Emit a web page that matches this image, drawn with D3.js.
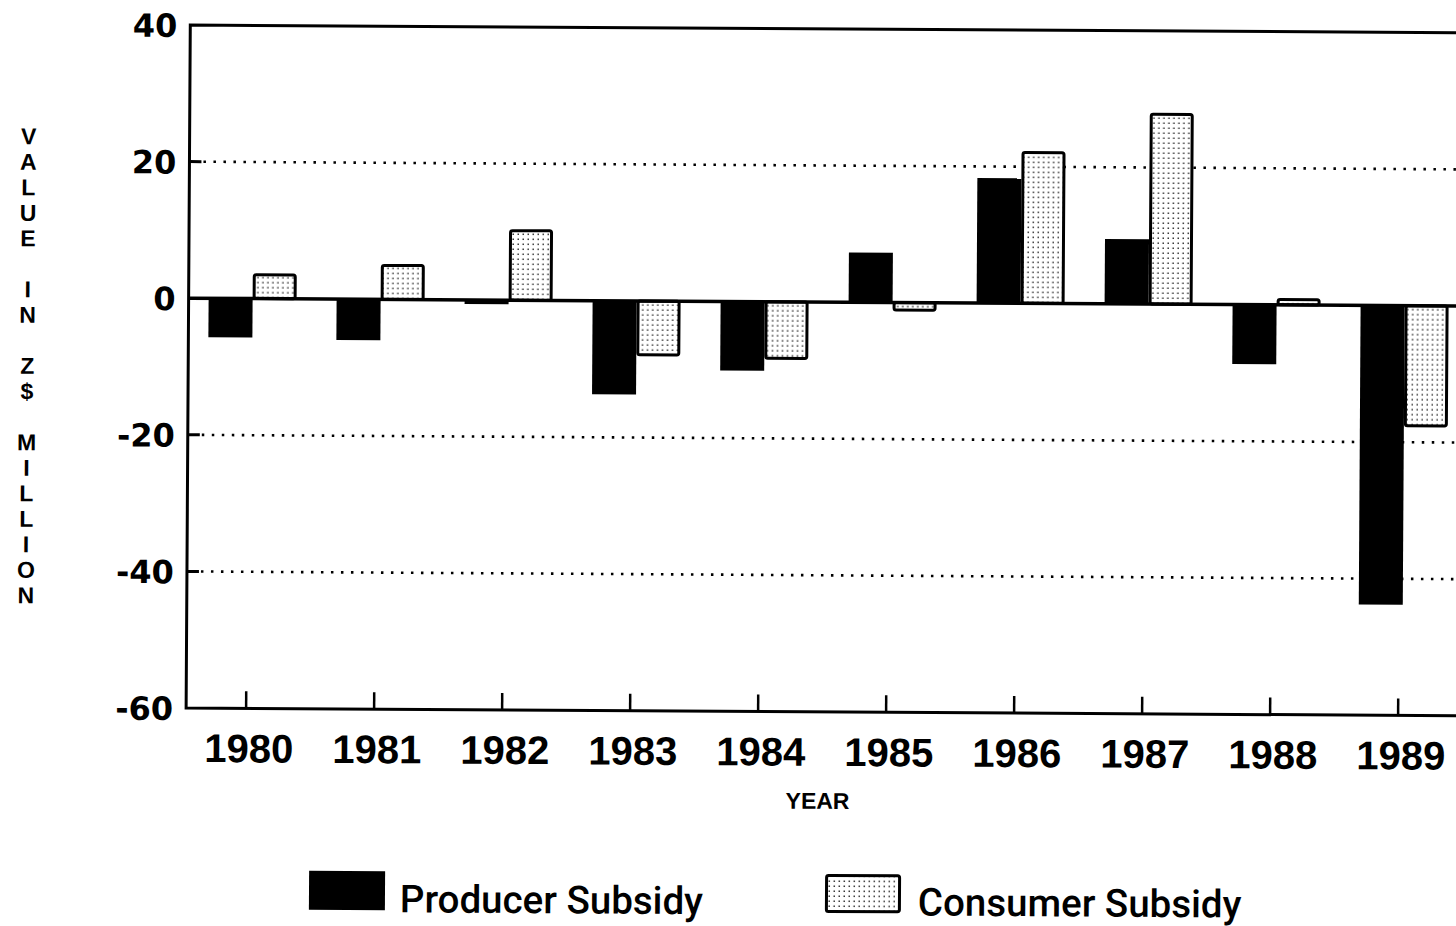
<!DOCTYPE html>
<html><head><meta charset="utf-8">
<script src="https://cdn.jsdelivr.net/npm/d3@7"></script>
<style>body{margin:0;background:#fff} svg{display:block}</style>
</head><body>
<svg id="c" width="1456" height="926"></svg>
<script>
const years = ["1980","1981","1982","1983","1984","1985","1986","1987","1988","1989"];
const producer = [-5.7,-6.0,-0.6,-13.7,-10.1,7.3,18.3,9.5,-8.7,-43.8];
const consumer = [3.7,5.2,10.4,-8.1,-8.5,-1.3,22.3,28.0,1.0,-17.8];
const yTicks = [40,20,0,-20,-40,-60];
const gridTicks = [20,-20,-40];
const yTitle = "VALUE IN Z$ MILLION";
const xTitle = "YEAR";
const seriesNames = ["Producer Subsidy","Consumer Subsidy"];

const svg = d3.select("#c");
const defs = svg.append("defs");
const pat = defs.append("pattern").attr("id","dots").attr("patternUnits","userSpaceOnUse")
  .attr("width",5).attr("height",5);
pat.append("rect").attr("width",5).attr("height",5).attr("fill","#fff");
pat.append("rect").attr("x",1.5).attr("y",1.5).attr("width",1.5).attr("height",1.5).attr("fill","#333");

const L = 188, R = 1470, T = 25, B = 708;
const g = svg.append("g").attr("transform","rotate(0.35,188,400)");

const x = d3.scaleBand().domain(years).range([L, L + 128*years.length]).padding(0);
const y = d3.scaleLinear().domain([-60,40]).range([B,T]);
const half = 44;

// dotted gridlines
g.selectAll(".grid").data(gridTicks).join("line")
  .attr("x1",L+14).attr("x2",R).attr("y1",d=>y(d)).attr("y2",d=>y(d))
  .attr("stroke","#000").attr("stroke-width",2.6).attr("stroke-dasharray","2.5,7.5");
// short y ticks
g.selectAll(".yt").data(gridTicks).join("line")
  .attr("x1",L).attr("x2",L+12).attr("y1",d=>y(d)).attr("y2",d=>y(d))
  .attr("stroke","#000").attr("stroke-width",3);

// bars
const cx = d => x(d) + x.bandwidth()/2;
g.selectAll(".p").data(years).join("rect")
  .attr("x",d=>cx(d)-half).attr("width",half)
  .attr("y",(d,i)=>y(Math.max(0,producer[i])))
  .attr("height",(d,i)=>Math.abs(y(producer[i])-y(0)))
  .attr("fill","#000");
g.selectAll(".c").data(years).join("rect")
  .attr("x",d=>cx(d)+1.5).attr("width",half-3)
  .attr("y",(d,i)=>y(Math.max(0,consumer[i])) + (consumer[i]>0?1.5:0))
  .attr("height",(d,i)=>Math.max(0,Math.abs(y(consumer[i])-y(0))-1.5))
  .attr("rx",2)
  .attr("fill","url(#dots)").attr("stroke","#000").attr("stroke-width",3);

// frame
g.append("line").attr("x1",L).attr("x2",R).attr("y1",y(0)).attr("y2",y(0)).attr("stroke","#000").attr("stroke-width",3.5);
g.append("path").attr("d",`M${R},${T}H${L}V${B}H${R}`).attr("fill","none").attr("stroke","#000").attr("stroke-width",3);

// y axis labels
const ya = g.append("g").attr("transform",`translate(${L-13},0)`)
  .call(d3.axisLeft(y).tickValues(yTicks).tickSize(0).tickPadding(0).tickFormat(d3.format("d")));
ya.select(".domain").remove();
ya.selectAll("text").attr("font-family","DejaVu Sans").attr("font-weight","bold")
  .attr("font-size",32).attr("fill","#000").attr("dy","0.36em").text(d=>d<0?"-"+Math.abs(d):d);

// x axis
const xa = g.append("g").attr("transform",`translate(-4,${B})`)
  .call(d3.axisBottom(x).tickSize(-17).tickPadding(0));
xa.select(".domain").remove();
xa.selectAll(".tick line").attr("stroke","#000").attr("stroke-width",2.5);
xa.selectAll("text").attr("font-family","Liberation Sans").attr("font-weight","bold")
  .attr("font-size",40).attr("fill","#000").attr("y",54).attr("dy",0).attr("dx",3);

g.append("text").attr("x",820).attr("y",805).attr("text-anchor","middle")
  .attr("font-family","Liberation Sans").attr("font-weight","bold").attr("font-size",23).text(xTitle);

// vertical y title
g.append("g").selectAll("text").data(yTitle.split("")).join("text")
  .attr("x",27).attr("y",(d,i)=>137 + i*25.5).attr("dy","0.36em").attr("text-anchor","middle")
  .attr("font-family","Liberation Sans").attr("font-weight","bold").attr("font-size",23).text(d=>d);

// legend
const leg = g.append("g");
const lx = [312, 828], tx = [403, 921];
leg.append("rect").attr("x",lx[0]).attr("y",870).attr("width",76).attr("height",39).attr("fill","#000");
leg.append("rect").attr("x",lx[1]+1.5).attr("y",871.5).attr("width",73).attr("height",36).attr("rx",2)
  .attr("fill","url(#dots)").attr("stroke","#000").attr("stroke-width",3);
leg.selectAll(".lt").data(seriesNames).join("text")
  .attr("x",(d,i)=>tx[i]).attr("y",911)
  .attr("font-family","Roboto").attr("font-weight",500).attr("font-size",38.5).attr("fill","#000").text(d=>d);
</script>
</body></html>
